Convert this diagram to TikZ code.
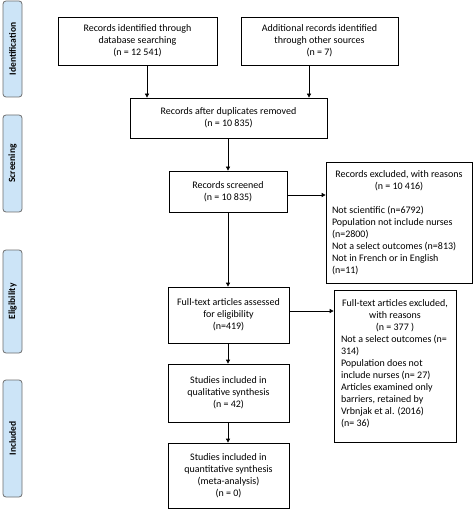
\documentclass[tikz,border=0pt]{standalone}
\usepackage{fontspec}
\setmainfont{Carlito}
\usetikzlibrary{arrows.meta}
\definecolor{phasefill}{RGB}{204,228,247}
\definecolor{phasedraw}{RGB}{110,110,110}
\newcommand{\myCtr}[1]{\makebox[\linewidth]{#1}\\}
\newcommand{\myLft}[1]{\mbox{#1}\\}
\begin{document}
\begin{tikzpicture}[x=1pt,y=-1pt,
  box/.style={draw=black,line width=0.7pt,inner sep=0pt,align=center,
    font=\fontsize{10}{12}\selectfont},
  listbox/.style={draw=black,line width=0.7pt,inner sep=0pt,
    font=\fontsize{10}{12}\selectfont},
  phase/.style={draw=phasedraw,fill=phasefill,line width=0.8pt,rounded corners=3pt,
    inner sep=0pt,minimum height=19pt,
    font=\bfseries\fontsize{9.5}{10}\selectfont},
  conn/.style={draw=black,line width=0.7pt,-{Triangle[length=4pt,width=4pt]}}]
\useasboundingbox (0,0) rectangle (474,510);
% phase bars
\node[phase,minimum width=96pt,rotate=90] (pid) at (12.5,49) {Identification};
\node[phase,minimum width=97pt,rotate=90] (psc) at (12.5,163.5) {Screening};
\node[phase,minimum width=103pt,rotate=90] (pel) at (12.5,301.5) {Eligibility};
\node[phase,minimum width=117pt,rotate=90] (pin) at (12.5,438.5) {Included};
% boxes
\node[box,minimum width=159pt,minimum height=48pt] (A) at (137.5,41)
  {Records identified through\\database searching\\(n = 12 541)};
\node[box,minimum width=157pt,minimum height=48pt] (B) at (319.5,41)
  {Additional records identified\\through other sources\\(n = 7)};
\node[box,minimum width=197pt,minimum height=40pt] (C) at (228.5,118)
  {Records after duplicates removed\\(n = 10 835)};
\node[box,minimum width=118pt,minimum height=41pt] (D) at (228,191.5)
  {Records screened\\(n = 10 835)};
\node[listbox,minimum width=146pt,minimum height=121pt] (E) at (399,222.5)
  {\parbox{134pt}{\myCtr{Records excluded, with reasons}\myCtr{(n = 10 416)}\myCtr{}%
   \myLft{Not scientific (n=6792)}\myLft{Population not include nurses}\myLft{(n=2800)}%
   \myLft{Not a select outcomes (n=813)}\myLft{Not in French or in English}\mbox{(n=11)}}};
\node[listbox,minimum width=122pt,minimum height=152pt] (G) at (395,366)
  {\parbox{108pt}{\myCtr{Full-text articles excluded,}\myCtr{with reasons}\myCtr{(n = 377 )}%
   \myLft{Not a select outcomes (n=}\myLft{314)}\myLft{Population does not}%
   \myLft{include nurses (n= 27)}\myLft{Articles examined only}\myLft{barriers, retained by}%
   \myLft{Vrbnjak et al. (2016)}\mbox{(n= 36)}\par\vspace{5pt}}};
\node[box,minimum width=121pt,minimum height=56pt] (F) at (228.5,315)
  {Full-text articles assessed\\for eligibility\\(n=419)};
\node[box,minimum width=121pt,minimum height=58pt] (H) at (228.5,393)
  {Studies included in\\qualitative synthesis\\(n = 42)};
\node[box,minimum width=121pt,minimum height=65pt] (I) at (228.5,475.5)
  {Studies included in\\quantitative synthesis\\(meta-analysis)\\(n = 0)};
% connectors
\draw[conn] ([xshift=9.5pt]A.south) -- ([xshift=9.5pt]A.south |- C.north);
\draw[conn] ([xshift=-10.5pt]B.south) -- ([xshift=-10.5pt]B.south |- C.north);
\draw[conn] (D.north |- C.south) -- (D.north);
\draw[conn] ([yshift=-3.5pt]D.east) -- ([yshift=-3.5pt]D.east -| E.west);
\draw[conn] (D.south) -- (D.south |- F.north);
\draw[conn] ([yshift=4pt]F.east) -- ([yshift=4pt]F.east -| G.west);
\draw[conn] (D.south |- F.south) -- (D.south |- H.north);
\draw[conn] (D.south |- H.south) -- (D.south |- I.north);
\end{tikzpicture}
\end{document}
